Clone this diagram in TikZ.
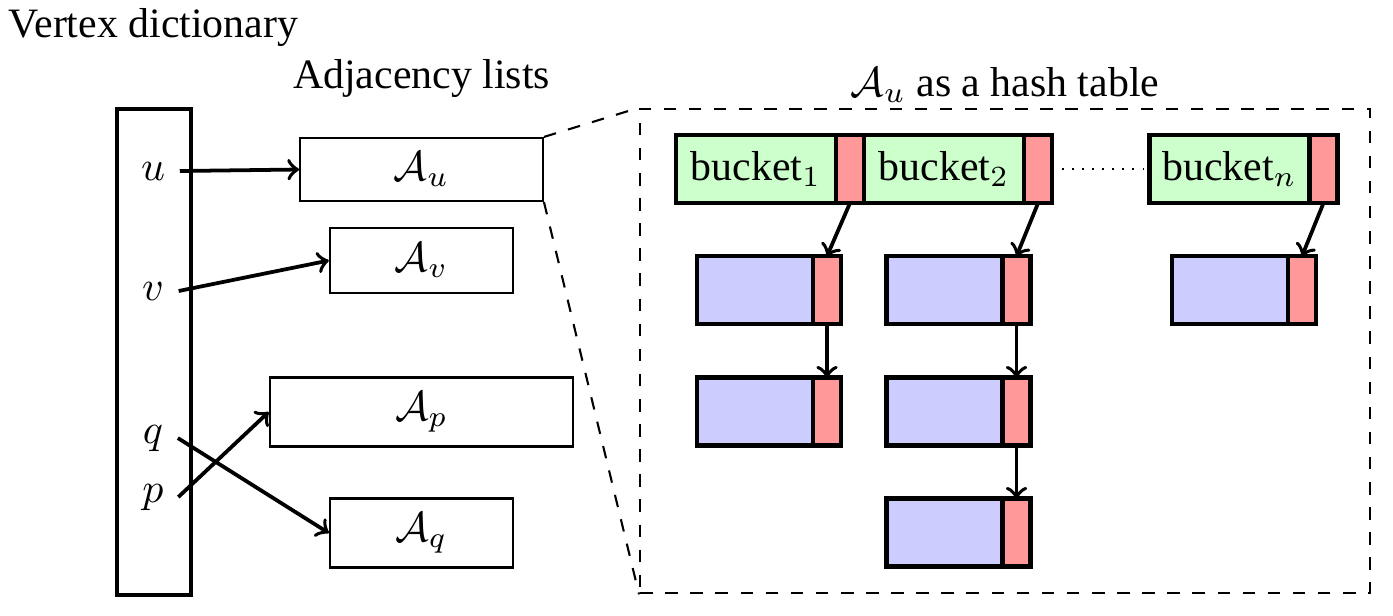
\documentclass[tikz,border=0pt]{standalone}
\usepackage{fontspec}
\setmainfont{Liberation Serif}
\usepackage{amsmath}
\usetikzlibrary{positioning}

\tikzset{
  dictbox/.style={draw, line width=1pt, minimum width=0.62cm, minimum height=4.08cm},
  adjbox/.style={draw, line width=0.5pt, minimum height=0.54cm},
  bucketbox/.style={draw, line width=1pt, fill=green!20, outer sep=0pt, inner sep=0pt,
                    minimum width=1.345cm, minimum height=0.57cm},
  ptrbox/.style={draw, line width=1pt, fill=red!40, outer sep=0pt, inner sep=0pt,
                 minimum width=0.235cm, minimum height=0.57cm},
  entrybox/.style={draw, line width=1pt, fill=blue!20, outer sep=0pt, inner sep=0pt,
                   minimum width=0.975cm, minimum height=0.57cm},
  link/.style={->, line width=0.9pt},
}

\begin{document}
\begin{tikzpicture}[x=0.84cm,y=-0.84cm]
\useasboundingbox (0,0) rectangle (13.93,6.15);

% vertex dictionary
\node [anchor=base west, inner sep=0pt] (dicttitle) at (0.08,0.37) {Vertex dictionary};
\node [dictbox] (dict) at (1.54,3.52) {};

\node [anchor=base] (u) at (1.53,1.80) {$u$};
\node [anchor=base] (v) at (1.53,3.00) {$v$};
\node [anchor=base] (q) at (1.53,4.43) {$q$};
\node [anchor=base] (p) at (1.53,5.02) {$p$};

% adjacency lists
\node [anchor=base] (adjtitle) at (4.215,0.88) {Adjacency lists};
\node [adjbox, minimum width=2.04cm, minimum height=0.53cm] (Au) at (4.215,1.695) {$\mathcal{A}_u$};
\node [adjbox, minimum width=1.54cm] (Av) at (4.215,2.605) {$\mathcal{A}_v$};
\node [adjbox, minimum width=2.55cm, minimum height=0.58cm] (Ap) at (4.215,4.12) {$\mathcal{A}_p$};
\node [adjbox, minimum width=1.54cm, minimum height=0.58cm] (Aq) at (4.215,5.33) {$\mathcal{A}_q$};

\draw [link] (u.east) -- (Au.west);
\draw [link] (v.east) -- (Av.west);
\draw [link] (q.east) -- (Aq.west);
\draw [link] (p.east) -- (Ap.west);

% hash table
\node [anchor=base] (hashtitle) at (10.05,0.96) {$\mathcal{A}_u$ as a hash table};
\node [draw, dashed, line width=0.5pt, minimum width=6.13cm, minimum height=4.07cm] (frame) at (10.05,3.51) {};
\draw [dashed, line width=0.5pt] (Au.north east) -- (frame.north west);
\draw [dashed, line width=0.5pt] (Au.south east) -- (frame.south west);

\node [bucketbox] (b1) at (7.56,1.69) {bucket$_1$};
\node [ptrbox, right=0pt of b1] (b1p) {};
\node [bucketbox, right=0pt of b1p] (b2) {bucket$_2$};
\node [ptrbox, right=0pt of b2] (b2p) {};
\node [bucketbox] (bn) at (12.295,1.69) {bucket$_n$};
\node [ptrbox, right=0pt of bn] (bnp) {};
\draw [dotted] (b2p) -- (bn);

\foreach \n/\x/\y in {11/7.55/2.90, 12/7.55/4.115, 21/9.445/2.90, 22/9.445/4.115,
                      23/9.445/5.325, 31/12.30/2.90} {
  \node [entrybox] (e\n) at (\x,\y) {};
  \node [ptrbox, right=0pt of e\n] (p\n) {};
}

\draw [link] (b1p.south) -- (p11.north);
\draw [link] (p11.south) -- (p12.north);
\draw [link] (b2p.south) -- (p21.north);
\draw [link] (p21.south) -- (p22.north);
\draw [link] (p22.south) -- (p23.north);
\draw [link] (bnp.south) -- (p31.north);

\end{tikzpicture}
\end{document}
